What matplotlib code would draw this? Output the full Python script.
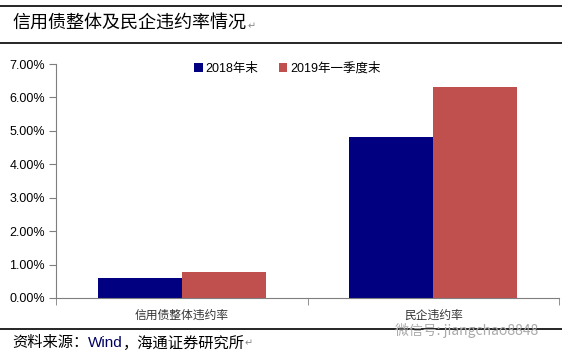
import matplotlib
matplotlib.use("Agg")
import matplotlib.pyplot as plt
import numpy as np
from matplotlib.ticker import FuncFormatter, FixedLocator

plt.rcParams['font.family'] = ['Liberation Sans', 'Noto Sans CJK SC', 'DejaVu Sans']

categories = ["信用债整体违约率", "民企违约率"]
series_names = ["2018年末", "2019年一季度末"]
values_2018 = [0.60, 4.82]
values_2019q1 = [0.79, 6.32]
yticks = [0, 1, 2, 3, 4, 5, 6, 7]
colors = ["#000080", "#C0504D"]

W, H = 562, 356
fig = plt.figure(figsize=(W / 100, H / 100), dpi=100)

ax = fig.add_axes([56 / W, 1 - 298 / H, (559 - 56) / W, (298 - 64) / H])
x = np.arange(len(categories))
bw = 1 / 3
ax.bar(x - bw / 2, values_2018, width=bw, color=colors[0], label=series_names[0])
ax.bar(x + bw / 2, values_2019q1, width=bw, color=colors[1], label=series_names[1])

ax.set_xlim(-0.5, len(categories) - 0.5)
ax.set_ylim(0, 7)
ax.set_yticks(yticks)
ax.yaxis.set_major_formatter(FuncFormatter(lambda v, p: f"{v:.2f}%"))
ax.set_xticks(x)
ax.set_xticklabels(categories, fontsize=8.5, color="#333333",
                   family=['Noto Sans CJK SC', 'DejaVu Sans'])
ax.xaxis.set_minor_locator(FixedLocator([-0.5, 0.5, 1.5]))
ax.tick_params(axis='x', which='major', length=0, pad=8)
ax.tick_params(axis='x', which='minor', length=5, color="#7f7f7f", direction='out')
ax.tick_params(axis='y', length=5, color="#7f7f7f", direction='out', labelsize=9,
               pad=3)
for s in ['top', 'right']:
    ax.spines[s].set_visible(False)
for s in ['left', 'bottom']:
    ax.spines[s].set_color("#7f7f7f")

leg = ax.legend(loc='upper center', bbox_to_anchor=(0.46, 1.055), ncol=2, frameon=False,
                handlelength=0.7, handleheight=0.7, handletextpad=0.2,
                columnspacing=1.6,
                prop={'family': ['Liberation Sans', 'Noto Sans CJK SC'], 'size': 9})

# Title and source lines
fig.add_artist(plt.Line2D([0, 1], [1 - 6 / H, 1 - 6 / H], color='black', lw=1.2))
fig.add_artist(plt.Line2D([0, 1], [1 - 43 / H, 1 - 43 / H], color='black', lw=1.2))
fig.add_artist(plt.Line2D([0, 1], [1 - 329 / H, 1 - 329 / H], color='black', lw=1.2))
fig.text(12 / W, 1 - 23 / H, "信用债整体及民企违约率情况", fontsize=13, va='center', ha='left',
         family=['Noto Sans CJK SC', 'DejaVu Sans'])
fig.text(248 / W, 1 - 26 / H, "↵", fontsize=7, va='center', ha='left', color="#888888",
         family=['DejaVu Sans'])

# Source line: place pieces one after another
renderer = fig.canvas.get_renderer()
pieces = [("资料来源：", "black", ['Noto Sans CJK SC', 'DejaVu Sans'], 11),
          ("Wind", "#000060", ['Liberation Sans'], 11),
          ("，海通证券研究所", "black", ['Noto Sans CJK SC', 'DejaVu Sans'], 11),
          ("↵", "#888888", ['DejaVu Sans'], 7)]
xpos = 12
for txt, col, fam, fs in pieces:
    t = fig.text(xpos / W, 1 - 343 / H, txt, fontsize=fs, va='center', ha='left',
                 color=col, family=fam)
    bb = t.get_window_extent(renderer=renderer)
    xpos += bb.width

fig.text(395 / W, 1 - 331 / H, "微信号: jiangchao8848", fontsize=10, va='center', ha='left',
         color="#aaaaaa", family=['Noto Sans CJK SC', 'DejaVu Sans'])

fig.savefig("out.png", dpi=100)
